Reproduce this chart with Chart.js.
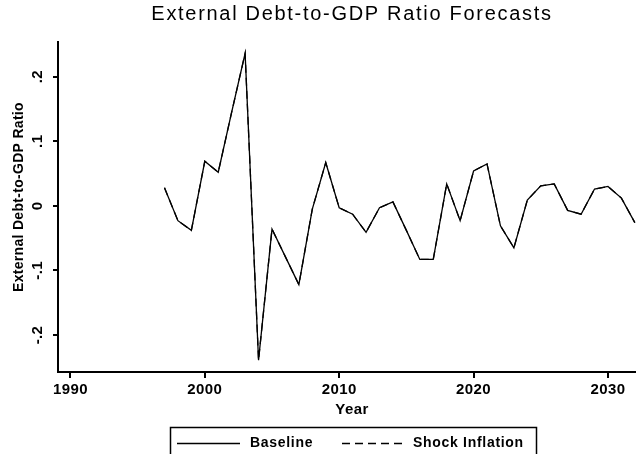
<!DOCTYPE html>
<html>
<head>
<meta charset="utf-8">
<script src="https://cdn.jsdelivr.net/npm/chart.js@4/dist/chart.umd.min.js"></script>
<style>
  html, body { margin: 0; padding: 0; background: #fff; overflow: hidden; }
  #wrap { width: 704px; height: 470px; }
</style>
</head>
<body>
<div id="wrap"><canvas id="chart" width="704" height="470"></canvas></div>
<script>
// Forecast series, one value per year
const years = [1997, 1998, 1999, 2000, 2001, 2002, 2003, 2004, 2005, 2006, 2007, 2008,
               2009, 2010, 2011, 2012, 2013, 2014, 2015, 2016, 2017, 2018, 2019, 2020,
               2021, 2022, 2023, 2024, 2025, 2026, 2027, 2028, 2029, 2030, 2031, 2032];
const baseline = [0.028, -0.023, -0.038, 0.069, 0.052, 0.145, 0.236, -0.239, -0.036, -0.079,
                  -0.122, -0.005, 0.067, -0.003, -0.013, -0.041, -0.003, 0.006, -0.038, -0.083,
                  -0.083, 0.034, -0.023, 0.054, 0.065, -0.031, -0.065, 0.009, 0.031, 0.034,
                  -0.007, -0.013, 0.026, 0.030, 0.012, -0.026];
const shockInflation = [0.028, -0.023, -0.038, 0.069, 0.052, 0.145, 0.236, -0.239, -0.036, -0.079,
                        -0.122, -0.005, 0.067, -0.003, -0.013, -0.041, -0.003, 0.006, -0.038, -0.083,
                        -0.083, 0.034, -0.023, 0.054, 0.065, -0.031, -0.065, 0.009, 0.031, 0.034,
                        -0.007, -0.013, 0.026, 0.030, 0.012, -0.026];

// Axis ticks and labels
const xTicks = [1990, 2000, 2010, 2020, 2030];
const yTicks = [-0.2, -0.1, 0, 0.1, 0.2];
const yTickLabels = ['-.2', '-.1', '0', '.1', '.2'];
const seriesNames = ['Baseline', 'Shock Inflation'];
const titleText = 'External Debt-to-GDP Ratio Forecasts';
const xTitle = 'Year';
const yTitle = 'External Debt-to-GDP Ratio';

const FONT = '"Liberation Sans", Arial, Helvetica, sans-serif';

function toPoints(vals) {
  return years.map((yr, i) => ({ x: yr, y: vals[i] }));
}

// Text, tick labels and framed legend in the plain graph style
const textPlugin = {
  id: 'graphText',
  afterDraw(chart) {
    const ctx = chart.ctx;
    const xs = chart.scales.x, ys = chart.scales.y, ca = chart.chartArea;
    const cx = (ca.left + ca.right) / 2;
    ctx.save();
    ctx.fillStyle = '#000';
    ctx.textAlign = 'center';
    ctx.textBaseline = 'middle';

    // title
    ctx.font = '20px ' + FONT;
    ctx.letterSpacing = '1.7px';
    ctx.fillText(titleText, cx, 14);

    // x tick labels
    ctx.font = 'bold 15px ' + FONT;
    ctx.letterSpacing = '0.4px';
    xTicks.forEach(v => ctx.fillText(String(v), xs.getPixelForValue(v), 390));

    // x title
    ctx.font = 'bold 15px ' + FONT;
    ctx.fillText(xTitle, cx, 410);

    // y tick labels, rotated
    ctx.font = 'bold 15px ' + FONT;
    yTicks.forEach((v, i) => {
      ctx.save();
      ctx.translate(37.5, ys.getPixelForValue(v));
      ctx.rotate(-Math.PI / 2);
      ctx.fillText(yTickLabels[i], 0, 0);
      ctx.restore();
    });

    // y title, rotated
    ctx.font = 'bold 14px ' + FONT;
    ctx.letterSpacing = '0.3px';
    ctx.save();
    ctx.translate(19, 197);
    ctx.rotate(-Math.PI / 2);
    ctx.fillText(yTitle, 0, 0);
    ctx.restore();

    // legend frame and entries
    ctx.lineWidth = 1.5;
    ctx.strokeStyle = '#000';
    ctx.strokeRect(170.5, 427.5, 366, 40);
    const ly = 443.5;
    ctx.lineWidth = 1.3;
    ctx.beginPath(); ctx.moveTo(177, ly); ctx.lineTo(240, ly); ctx.stroke();
    ctx.setLineDash([8, 5]);
    ctx.beginPath(); ctx.moveTo(342, ly); ctx.lineTo(407, ly); ctx.stroke();
    ctx.setLineDash([]);
    ctx.font = 'bold 14px ' + FONT;
    ctx.letterSpacing = '0.7px';
    ctx.textAlign = 'left';
    ctx.fillText(seriesNames[0], 250, 443);
    ctx.fillText(seriesNames[1], 413, 443);
    ctx.restore();
  }
};

new Chart(document.getElementById('chart'), {
  type: 'line',
  data: {
    datasets: [
      {
        label: seriesNames[0],
        data: toPoints(baseline),
        borderColor: '#000',
        borderWidth: 1.3,
        pointRadius: 0,
        tension: 0,
        fill: false
      },
      {
        label: seriesNames[1],
        data: toPoints(shockInflation),
        borderColor: '#000',
        borderWidth: 1.3,
        borderDash: [8, 5],
        pointRadius: 0,
        tension: 0,
        fill: false
      }
    ]
  },
  options: {
    responsive: false,
    animation: false,
    devicePixelRatio: 1,
    layout: { padding: { top: 42, right: 58, bottom: 0, left: 0 } },
    plugins: {
      legend: { display: false },
      title: { display: false },
      tooltip: { enabled: false }
    },
    scales: {
      x: {
        type: 'linear',
        min: 1989.077,
        max: 2032.83,
        afterBuildTicks: s => { s.ticks = xTicks.map(v => ({ value: v })); },
        afterFit: s => { s.height = 98; },
        ticks: { display: false },
        grid: { display: true, drawOnChartArea: false, drawTicks: true, tickLength: 6, color: '#000', lineWidth: 2 },
        border: { display: true, color: '#000', width: 2 }
      },
      y: {
        type: 'linear',
        min: -0.2573,
        max: 0.2537,
        afterBuildTicks: s => { s.ticks = yTicks.map(v => ({ value: v })); },
        afterFit: s => { s.width = 58; },
        ticks: { display: false },
        grid: { display: true, drawOnChartArea: false, drawTicks: true, tickLength: 5, color: '#000', lineWidth: 2 },
        border: { display: true, color: '#000', width: 2 }
      }
    }
  },
  plugins: [textPlugin]
});
</script>
</body>
</html>
